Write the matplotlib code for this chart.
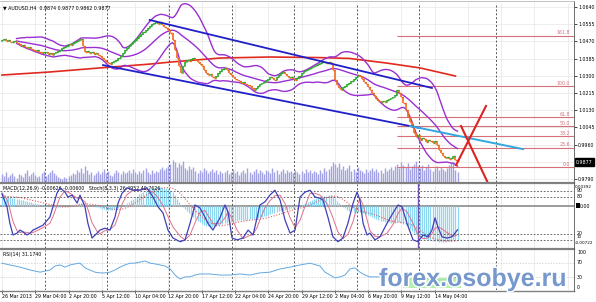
import numpy as np
import pandas as pd
import matplotlib
matplotlib.use("Agg")
import matplotlib.pyplot as plt
from matplotlib.lines import Line2D
from matplotlib.patches import Rectangle
import matplotlib.patheffects as pe
import matplotlib.transforms as mtrans

# ---------------- data ----------------
first_open = 1.0472
close = [
    1.0477, 1.0482, 1.0472, 1.0477, 1.0467, 1.0467, 1.0472, 1.0462, 1.0457, 1.0447,
    1.0452, 1.0442, 1.0437, 1.0442, 1.0433, 1.0428, 1.0423, 1.0428, 1.0418, 1.0413,
    1.0418,
    1.0418, 1.0408, 1.0413, 1.0403, 1.0413, 1.0418, 1.0423, 1.0428, 1.0437, 1.0442,
    1.0447, 1.0457, 1.0452, 1.0462, 1.0467, 1.0472, 1.0477, 1.0482, 1.0447,
    1.0418, 1.0423, 1.0413, 1.0418, 1.0408, 1.0413, 1.0403, 1.0398, 1.0388, 1.0378, 1.0368,
    1.0363, 1.0358, 1.0368, 1.0373, 1.0378, 1.0388,
    1.0398, 1.0413, 1.0428, 1.0437, 1.0447, 1.0457, 1.0467, 1.0477, 1.0487, 1.0497,
    1.0507, 1.0517, 1.0526, 1.0536,
    1.0546, 1.0556, 1.0561, 1.0566, 1.0556, 1.0566, 1.0551, 1.0541, 1.0536, 1.0526,
    1.0512, 1.0477, 1.0428, 1.0388, 1.0348, 1.0314,
    1.0348, 1.0368, 1.0378, 1.0373, 1.0383, 1.0388, 1.0378, 1.0368, 1.0358, 1.0348,
    1.0329, 1.0314, 1.0304, 1.0309, 1.0294, 1.0289, 1.0299, 1.0314,
    1.0324, 1.0334, 1.0339, 1.0329, 1.0314, 1.0304, 1.0294,
    1.0284, 1.0279, 1.0275, 1.0265, 1.0270, 1.0260, 1.0255, 1.0250, 1.0240, 1.0230, 1.0240,
    1.0250, 1.0260, 1.0265, 1.0270, 1.0279, 1.0284, 1.0294, 1.0289, 1.0279, 1.0294, 1.0304,
    1.0314, 1.0319, 1.0309, 1.0299, 1.0289, 1.0294, 1.0284, 1.0279, 1.0289,
    1.0299, 1.0314, 1.0324, 1.0329, 1.0334, 1.0339, 1.0343, 1.0348, 1.0353, 1.0358,
    1.0363, 1.0368, 1.0368, 1.0363, 1.0368, 1.0363,
    1.0329, 1.0279, 1.0255, 1.0240, 1.0230, 1.0245,
    1.0250, 1.0260, 1.0265, 1.0275, 1.0284, 1.0294, 1.0304, 1.0299,
    1.0284, 1.0270, 1.0260, 1.0245, 1.0230, 1.0215, 1.0200, 1.0186, 1.0176, 1.0171, 1.0176,
    1.0171, 1.0181, 1.0186, 1.0190, 1.0195, 1.0205, 1.0230, 1.0215,
    1.0195, 1.0166, 1.0131, 1.0097, 1.0072, 1.0047, 1.0018, 0.9998, 1.0008,
    0.9983, 0.9993, 0.9988, 0.9973, 0.9983, 0.9978, 0.9968, 0.9978, 0.9958, 0.9934,
    0.9919, 0.9904, 0.9894, 0.9899, 0.9889, 0.9894, 0.9904, 0.9884, 0.9877,
]

volume = [
    8, 6, 10, 5, 7, 9, 6, 4, 8, 7, 5, 9, 12, 6, 8, 10, 7, 5, 6, 9, 11,
    6, 8, 10, 12, 9, 7, 5, 4, 3, 5, 4, 6, 7, 9, 8, 12, 10, 14, 9, 16,
    12, 8, 10, 7, 9, 11, 8, 10, 13, 9, 11, 7, 6, 9, 12, 10, 8, 11, 9, 10,
    12, 9, 13, 10, 8, 11, 9, 12, 14, 10, 8, 12, 9, 11, 10, 13, 15, 12, 14, 16,
    18, 22, 20, 15, 19, 17, 21, 14, 12, 16, 13, 15, 11, 9, 12, 10, 14, 12, 9, 11,
    13, 10, 12, 8, 11, 9, 10, 12, 8, 10, 13, 9, 11, 7, 10, 12, 9, 14, 10, 8,
    11, 13, 9, 12, 10, 8, 12, 11, 9, 14, 10, 12, 8, 11, 13, 9, 12, 10, 11, 9,
    12, 10, 8, 11, 9, 13, 10, 12, 9, 11, 10, 8, 12, 9, 14, 11, 13, 16, 20, 18,
    15, 19, 13, 16, 12, 14, 17, 11, 13, 10, 15, 12, 11, 9, 13, 10, 12, 14, 11, 13,
    10, 12, 9, 14, 11, 13, 15, 12, 16, 18, 14, 20, 17, 15, 19, 13, 16, 18, 21, 16,
    14, 17, 12, 15, 18, 13, 11, 14, 16, 12, 15, 13, 11, 14, 17, 19, 20, 12, 10,
]

# MACD histogram in units of 1e-4
macd_hist_e4 = [
    20, 20, 19, 18, 18, 17, 16, 15, 14, 13,
    12, 11, 10, 9, 8, 7, 6, 5, 4, 3,
    2, 1, 0, -1, -2, -2, -3, -3, -3, -2,
    -1, 0, 1, 2, 3, 4, 5, 6, 6, 5,
    3, 2, 1, 0, -1, -2, -3, -4, -6, -7,
    -8, -9, -9, -8, -7, -6, -4, -2, 0, 3,
    6, 9, 12, 15, 18, 21, 24, 27, 29, 31,
    33, 35, 36, 37, 38, 39, 38, 38, 37, 36,
    35, 33, 28, 22, 15, 8, 3, -2, -6, -10,
    -14, -18, -22, -26, -30, -33, -36, -38, -40, -41,
    -42, -42, -41, -40, -39, -37, -36, -35, -34, -33,
    -32, -31, -30, -30, -29, -29, -28, -28, -28, -27,
    -27, -27, -26, -25, -24, -23, -21, -20, -18, -17,
    -15, -14, -13, -11, -10, -9, -8, -7, -6, -5,
    -4, -3, -2, 0, 2, 4, 6, 8, 10, 12,
    14, 16, 18, 19, 20, 21, 21, 22, 22, 20,
    16, 11, 6, 2, -2, -5, -8, -10, -11, -12,
    -13, -13, -13, -14, -15, -16, -18, -20, -22, -24,
    -26, -28, -30, -31, -32, -33, -33, -34, -34, -34,
    -33, -33, -34, -36, -39, -42, -46, -50, -54, -57,
    -60, -62, -64, -66, -67, -68, -69, -70, -71, -71,
    -72, -72, -72, -72, -71, -71, -70, -69, -69, -68,
]

stoch_x = [0, 0.5, 2.4, 3.8, 5.3, 7.2, 8.7, 10.1, 12, 13.5, 14.9, 16.8, 19.7, 23, 24.5,
           26.4, 27.9, 30.3, 31.7, 33.7, 36.1, 37.5, 39.9, 41.3, 43.3, 45.7, 47.1, 49.5,
           51.9, 54.3, 55.8, 57.7, 60.1, 63, 66.3, 69.7, 72.6, 75, 77.4, 79.8, 82.2, 85.6,
           88, 90.4, 92.8, 95.2, 97.6, 99, 101.4, 104.8, 107.2, 108.7, 110.6, 113, 115.9,
           118.3, 120.7, 122.6, 124, 126.4, 128.8, 131.2, 133.7, 136.1, 138.5, 140.9,
           143.3, 145.7, 148.1, 150.5, 152.9, 154.3, 156.7, 159.1, 161.5, 163.9, 166.3,
           168.8, 170.7, 172.1, 173.6, 175.5, 176.9, 179.3, 181.7, 185.1, 188, 190.4,
           192.3, 194.7, 197.6, 200, 202.4, 204.8, 206.7, 208.2, 209.6, 211.5, 213.9,
           216.3, 217.8, 219]
stoch_main = [86, 80, 64, 37, 18, 21, 26, 23, 18, 21, 26, 29, 34, 47, 64,
              86, 95, 88, 80, 83, 70, 83, 64, 37, 13, 21, 26, 29,
              26, 47, 70, 86, 95, 91, 91, 95, 80, 64, 54, 26, 13, 7,
              10, 37, 67, 62, 47, 37, 26, 46, 67, 55, 13, 10, 13,
              26, 18, 46, 67, 72, 83, 91, 75, 42, 21, 26,
              80, 88, 91, 80, 78, 75, 47, 15, 7, 13, 37,
              70, 88, 75, 37, 18, 21, 10, 15, 37, 54, 67,
              64, 37, 10, 7, 18, 15, 26, 46, 31, 15, 13,
              15, 21, 26.5]
stoch_sig = [84, 84, 76, 60, 40, 25, 22, 23, 22, 21, 22, 25, 30, 37, 48,
             66, 80, 90, 88, 84, 78, 78, 72, 60, 38, 24, 20, 25,
             27, 34, 48, 68, 84, 91, 92, 92, 88, 79, 66, 48, 31, 16,
             10, 18, 38, 55, 58, 50, 37, 36, 46, 56, 45, 26, 12,
             16, 19, 30, 43, 62, 74, 82, 83, 69, 46, 30,
             42, 65, 86, 86, 83, 78, 67, 46, 23, 12, 19,
             40, 65, 78, 67, 43, 25, 16, 15, 21, 35, 53,
             62, 56, 37, 18, 12, 13, 20, 29, 31, 28, 22,
             17, 16, 19]

rsi_x = [0, 3.8, 8.7, 13.5, 18.3, 23.1, 25.5, 27.9, 30.3, 32.7, 35.1, 37.5, 39.9, 42.3,
         44.7, 47.1, 49.5, 51.9, 54.3, 56.7, 59.1, 61.5, 63.9, 66.3, 68.8, 71.2, 73.6, 76,
         78.4, 80.8, 83.2, 85.6, 88, 90.4, 92.8, 95.2, 100, 104.8, 109.6, 114.4, 119.2,
         124, 128.8, 133.7, 138.5, 143.3, 148.1, 152.9, 155.3, 157.7, 160.1, 162.5, 164.9,
         167.3, 169.7, 172.1, 174.5, 176.9, 181.7, 186.5, 191.3, 196.2, 201, 205.8, 210.6,
         215.4, 219]
rsi_val = [69, 64, 58, 50, 44, 50, 61, 64, 58, 64, 67, 69, 56, 50,
           44, 42, 42, 44, 50, 58, 64, 69, 69, 72, 75, 69, 67, 64,
           61, 53, 36, 25, 31, 31, 36, 39, 39, 36, 36, 39, 36,
           42, 44, 53, 58, 64, 69, 61, 44, 36, 28, 31, 36,
           53, 56, 44, 36, 31, 31, 33, 36, 25, 22, 27, 22,
           24, 31]

ma_x = [0, 23, 47, 71, 81, 105, 129, 153, 167, 185, 201, 218]
ma_val = [1.0304, 1.0319, 1.0339, 1.0358, 1.0368, 1.0388, 1.0393, 1.0390, 1.0386,
          1.0363, 1.0339, 1.0299]

chan_up_x, chan_up_y = [71, 206.7], [1.0576, 1.0240]
chan_lo_x, chan_lo_y = [48.6, 201], [1.0353, 1.0042]
cyan_x, cyan_y = [196.2, 250.5], [1.0052, 0.9938]
xline_a_x, xline_a_y = [218.3, 232.7], [0.9859, 1.0151]
xline_b_x, xline_b_y = [220.7, 234.1], [1.0052, 0.9760]

fib_levels = [0.0, 23.6, 38.2, 50.0, 61.8, 100.0, 161.8]
fib_prices = [0.9849, 0.9944, 1.0002, 1.0050, 1.0097, 1.0250, 1.0498]
fib_start = 190

price_ticks = [1.0640, 1.0555, 1.0470, 1.0385, 1.0300, 1.0215, 1.0130, 1.0045, 0.9960, 0.9790]
date_bars = [0, 16, 32, 48, 64, 80, 96, 112, 128, 144, 160, 176, 192, 208]
date_labels = ["26 Mar 2013", "29 Mar 04:00", "2 Apr 20:00", "5 Apr 12:00", "10 Apr 04:00",
               "12 Apr 20:00", "17 Apr 12:00", "22 Apr 04:00", "24 Apr 20:00", "29 Apr 12:00",
               "2 May 04:00", "6 May 20:00", "9 May 12:00", "14 May 04:00"]
week_sep = [20.5, 50.5, 80.5, 110.5, 140.5, 170.5, 200.5, 237.5]

# ---------------- figure ----------------
W, H = 596, 302
def fx(px): return px / W
def fy(py): return 1 - py / H

plt.rcParams['font.family'] = ['DejaVu Sans']
FS = 3.4
fig = plt.figure(figsize=(5.96, 3.02), dpi=100)
fig.patch.set_facecolor('white')
X0, X1 = -0.96, 275

N = len(close)
xb = np.arange(N)
c = np.array(close)
o = np.array([first_open] + close[:-1])
up = c >= o

# main
ax = fig.add_axes([0, fy(182), fx(574), 179 / H])
ax.set_xlim(X0, X1)
ax.set_ylim(0.97755, 1.06598)
for sp in ax.spines.values():
    sp.set_visible(False)
ax.set_xticks([])
ax.yaxis.tick_right()
ax.set_yticks(price_ticks)
ax.set_yticklabels([f"{p:.4f}" for p in price_ticks], fontsize=FS)
ax.tick_params(axis='y', length=2, width=0.5, pad=1, colors='black')

for p in price_ticks + [0.9875]:
    ax.axhline(p, color='#e6e6e6', lw=0.5, zorder=0)
for t in date_bars + [224, 240, 256, 272]:
    ax.axvline(t, color='#e6e6e6', lw=0.5, zorder=0)
for b in week_sep:
    ax.axvline(b, color='#555555', lw=0.7, ls=(0, (2, 2)), zorder=1)

# volume
vtr = mtrans.blended_transform_factory(ax.transData, ax.transAxes)
VOL_FULL = 179.0
ax.vlines(xb, 0, np.array(volume) / VOL_FULL, colors='#a2a2e4', lw=1.0, transform=vtr, zorder=2)

# fibo
for lv, fp in zip(fib_levels, fib_prices):
    ax.hlines(fp, fib_start, X1, colors='#d8707c', lw=0.8, zorder=2)
    ax.text(273, fp + 0.0002, f"{lv:.1f}", fontsize=FS, color='#d8707c', ha='right', va='bottom')

# moving average / bollinger
ax.plot(ma_x, ma_val, color='#e02a20', lw=1.2, zorder=3)
s = pd.Series(close)
mid = s.rolling(20, min_periods=8).mean()
sd = s.rolling(20, min_periods=8).std(ddof=0)
for band in (mid, mid + 2 * sd, mid - 2 * sd):
    ax.plot(xb, band, color='#9a2fd2', lw=1.0, zorder=3)

# price bars
cols = np.where(up, '#2fa82f', '#f26a1b')
ax.vlines(xb, np.minimum(o, c), np.maximum(o, c), colors=cols, lw=1.2, zorder=4)
ax.hlines(o, xb - 0.7, xb, colors=cols, lw=0.9, zorder=4)
ax.hlines(c, xb, xb + 0.7, colors=cols, lw=0.9, zorder=4)

# trend lines
ax.plot(chan_up_x, chan_up_y, color='#2020c8', lw=1.3, zorder=5)
ax.plot(chan_lo_x, chan_lo_y, color='#2020c8', lw=1.3, zorder=5)
ax.plot(cyan_x, cyan_y, color='#33a8dc', lw=1.4, zorder=5)
ax.plot(xline_a_x, xline_a_y, color='#dd2222', lw=1.5, zorder=5)
ax.plot(xline_b_x, xline_b_y, color='#dd2222', lw=1.5, zorder=5)

ax.text(0.005, 0.985, "\u25BC AUDUSD,H4  0.9874 0.9877 0.9862 0.9877", transform=ax.transAxes,
        fontsize=FS, va='top', ha='left')
fig.text(fx(576), fy(162), "0.9877", fontsize=FS, color='white', va='center', ha='left',
         bbox=dict(boxstyle='square,pad=0.25', fc='black', ec='black'))

# MACD / Stoch panel
axm = fig.add_axes([0, fy(248), fx(574), 64 / H])
axm.set_xlim(X0, X1)
axm.set_ylim(-0.008505, 0.004455)
axm.axis('off')
hist = np.array(macd_hist_e4) / 1e4
axm.vlines(xb, 0, hist, colors='#8fd6f0', lw=0.9, zorder=2)
sig = pd.Series(hist).rolling(9, min_periods=1).mean()
axm.plot(xb, sig, color='#e06060', lw=0.8, ls=(0, (1, 1.5)), zorder=3)
axm.axhline(0, color='#8a8a8a', lw=1.2, zorder=1)
for t in date_bars + [224, 240, 256, 272]:
    axm.axvline(t, color='#e6e6e6', lw=0.5, zorder=0)
for b in week_sep:
    axm.axvline(b, color='#555555', lw=0.7, ls=(0, (2, 2)), zorder=1)
axm.axvline(200, color='#7454b4', lw=1.0, zorder=4)

axs = fig.add_axes([0, fy(248), fx(574), 64 / H])
axs.set_xlim(X0, X1)
axs.set_ylim(-3.27, 101.2)
axs.axis('off')
for lv in (90, 80, 20, 10):
    axs.axhline(lv, color='#505050', lw=0.6, ls=(0, (2, 2)), zorder=1)
axs.plot(stoch_x, stoch_sig, color='#e0708c', lw=0.7, zorder=3)
axs.plot(stoch_x, stoch_main, color='#4040b8', lw=0.9, zorder=4)
axs.text(0.005, 0.97, "MACD(12,26,9) -0.00626 -0.00600   Stoch(8,3,3) 26.4952 40.7626",
         transform=axs.transAxes, fontsize=FS, va='top', ha='left')

trs = mtrans.blended_transform_factory(fig.transFigure, axs.transData)
trm = mtrans.blended_transform_factory(fig.transFigure, axm.transData)
for lv in (90, 80, 20):
    fig.text(fx(577), lv, str(lv), transform=trs, fontsize=FS, va='center', ha='left')
fig.text(fx(577), 11, "10", transform=trs, fontsize=3.0, va='bottom', ha='left')
fig.text(fx(575), 0.00392, "0.00392", transform=trm, fontsize=3.0, va='center', ha='left')
fig.text(fx(575), -0.00712, "-0.00722", transform=trm, fontsize=3.0, va='top', ha='left')
fig.text(fx(580), 0.0, "0.00", transform=trm, fontsize=FS, va='center', ha='left')
fig.patches.append(Rectangle((fx(576), fy(208)), fx(4), 5 / H, transform=fig.transFigure,
                             fc='black', ec='none'))

# RSI panel
axr = fig.add_axes([0, fy(290), fx(574), 40 / H])
axr.set_xlim(X0, X1)
axr.set_ylim(-5.56, 105.6)
for sp in axr.spines.values():
    sp.set_visible(False)
axr.set_yticks([])
for t in date_bars + [224, 240, 256, 272]:
    axr.axvline(t, color='#e6e6e6', lw=0.5, zorder=0)
for b in week_sep:
    axr.axvline(b, color='#555555', lw=0.7, ls=(0, (2, 2)), zorder=1)
for lv in (70, 30):
    axr.axhline(lv, color='#c8c8c8', lw=0.5, ls=(0, (2, 2)), zorder=1)
axr.plot(rsi_x, rsi_val, color='#62a8e2', lw=0.7, zorder=3)
axr.set_xticks(date_bars)
axr.set_xticklabels(date_labels, fontsize=FS)
for lab in axr.get_xticklabels():
    lab.set_horizontalalignment('left')
axr.tick_params(axis='x', length=2, width=0.5, pad=1)
axr.text(0.005, 0.95, "RSI(14) 31.1740", transform=axr.transAxes, fontsize=FS, va='top', ha='left')
trr = mtrans.blended_transform_factory(fig.transFigure, axr.transData)
for lv in (100, 70, 30, 0):
    fig.text(fx(577), lv, str(lv), transform=trr, fontsize=FS, va='center', ha='left')

# separators & frame
for py, lw in ((183, 1.6), (249, 1.6), (290.5, 1.0)):
    fig.add_artist(Line2D([0, fx(574)], [fy(py), fy(py)], color='#808080', lw=lw))
fig.add_artist(Line2D([fx(574), fx(574)], [fy(1), fy(291)], color='#555555', lw=0.6))
fig.add_artist(Line2D([0, fx(574)], [fy(1), fy(1)], color='#aaaaaa', lw=0.5))

# watermark
fig.patches.append(Rectangle((fx(403), fy(288)), fx(58), 10 / H, transform=fig.transFigure,
                             fc='#a6ee9c', ec='none', alpha=0.85, zorder=5))
fig.text(fx(379), fy(286), "forex.osobye.ru", fontsize=18, fontweight='bold',
         family='Liberation Sans', color='#7698cc', va='baseline', ha='left', zorder=10,
         path_effects=[pe.withStroke(linewidth=2.2, foreground='white')])

fig.savefig("out.png", dpi=100)
